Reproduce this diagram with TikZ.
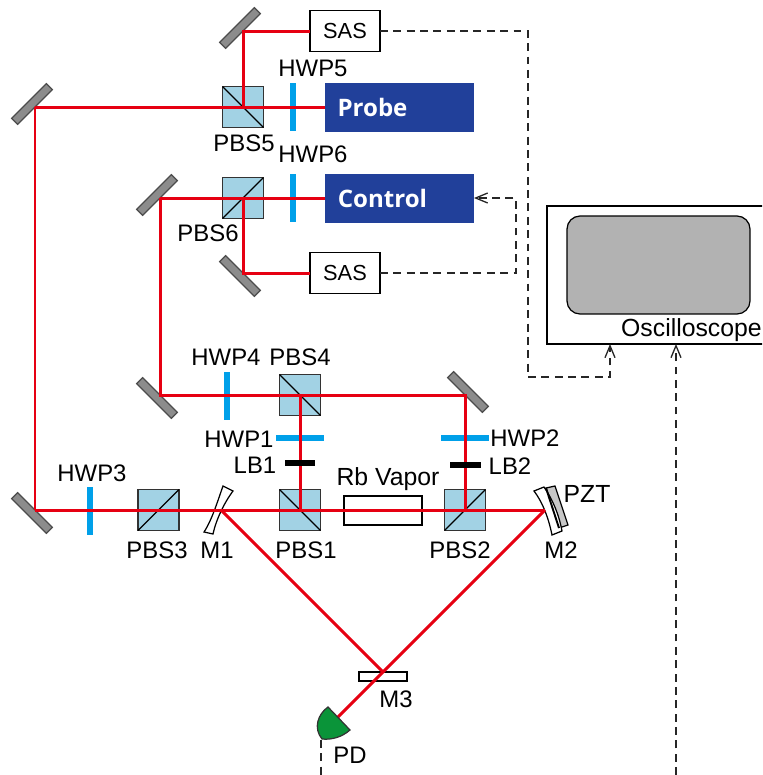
\documentclass[tikz,border=0pt]{standalone}
\usepackage{fontspec}
\setmainfont{Liberation Sans}
\newfontfamily\lasername{Open Sans}
\usetikzlibrary{arrows.meta,positioning}
\definecolor{beamred}{HTML}{E60012}
\definecolor{platecyan}{HTML}{00A0E9}
\definecolor{cubeblue}{HTML}{A2D2E4}
\definecolor{laserblue}{HTML}{21409A}
\definecolor{pdgreen}{HTML}{0A9439}

\begin{document}
\begin{tikzpicture}[
  x=0.02cm,y=-0.02cm,
  beam/.style={draw=beamred, line width=0.06cm},
  signal/.style={draw=black!85, line width=0.75pt, dash pattern=on 4.5pt off 3.1pt},
  signalarrow/.style={signal, -{Straight Barb[length=2.4mm,width=2mm]}},
  cube/.style={draw=black!80, fill=cubeblue, line width=0.8pt, minimum size=0.82cm,
    inner sep=0pt, outer sep=0pt},
  splitter/.style={draw=black, line width=0.7pt},
  mirror/.style={draw=black!70, fill=black!45, line width=0.7pt, minimum width=0.98cm,
    minimum height=0.17cm, inner sep=0pt, outer sep=0pt},
  vplate/.style={fill=platecyan, minimum width=0.12cm, minimum height=0.96cm,
    inner sep=0pt, outer sep=0pt},
  hplate/.style={fill=platecyan, minimum width=0.96cm, minimum height=0.12cm,
    inner sep=0pt, outer sep=0pt},
  blocker/.style={fill=black, minimum width=0.62cm, minimum height=0.12cm,
    inner sep=0pt, outer sep=0pt},
  whitebox/.style={draw=black, fill=white, line width=0.7pt, inner sep=0pt, outer sep=0pt},
  sasbox/.style={whitebox, minimum width=1.4cm, minimum height=0.82cm,
    font=\fontsize{12.4}{14}\selectfont},
  laser/.style={fill=laserblue, minimum width=2.98cm, minimum height=0.98cm, inner sep=0pt,
    outer sep=0pt},
  lasertext/.style={text=white, font=\lasername\bfseries\fontsize{13.7}{15}\selectfont,
    inner sep=0pt},
  tag/.style={inner sep=0pt, font=\fontsize{13.6}{15}\selectfont},
  widetag/.style={inner sep=0pt, font=\fontsize{14.1}{16}\selectfont}
]
\useasboundingbox (0,0) rectangle (762,775);
\clip (0,0) rectangle (762,775);

% lasers, boxes and oscilloscope
\node[laser] (probe) at (399.5,107) {};
\node[laser] (control) at (399.5,198) {};
\node[lasertext] (probetext) at (372.5,107) {Probe};
\node[lasertext] (controltext) at (382.5,198) {Control};
\node[sasbox] (sasprobe) at (345,31) {SAS};
\node[sasbox] (sascontrol) at (345,273) {SAS};
\node[whitebox, minimum width=5cm, minimum height=2.76cm, anchor=north west] (scope) at (547,206) {};
\node[draw=black, fill=black!30, line width=0.7pt, rounded corners=0.26cm, minimum width=3.66cm,
  minimum height=1.96cm, inner sep=0pt] (screen) at (658.5,265) {};
\node[widetag, anchor=east] (scopetext) at (762,330) {Oscilloscope};

% mirrors
\node[mirror, rotate=45, anchor=south] (mirrorsas) at (243,31) {};
\node[mirror, rotate=45, anchor=south] (mirrorprobe) at (35,107) {};
\node[mirror, rotate=45, anchor=south] (mirrorcontrol) at (160,198) {};
\node[mirror, rotate=-45, anchor=north] (mirrorlock) at (160,395) {};
\node[mirror, rotate=-45, anchor=north] (mirrorsastwo) at (243,273) {};
\node[mirror, rotate=-45, anchor=north] (mirrorinput) at (35,510) {};
\node[mirror, rotate=-45, anchor=south] (mirrorright) at (465,395) {};

% cubes
\node[cube] (pbsfive) at (243,107) {};
\node[cube] (pbssix) at (243,198) {};
\node[cube] (pbsfour) at (300,395) {};
\node[cube] (pbsone) at (300,510) {};
\node[cube] (pbstwo) at (465,510) {};
\node[cube] (pbsthree) at (158.5,510) {};
\draw[splitter] (pbsfive.north west) -- (pbsfive.south east);
\draw[splitter] (pbsfour.north west) -- (pbsfour.south east);
\draw[splitter] (pbsone.north west) -- (pbsone.south east);
\draw[splitter] (pbssix.south west) -- (pbssix.north east);
\draw[splitter] (pbstwo.south west) -- (pbstwo.north east);
\draw[splitter] (pbsthree.south west) -- (pbsthree.north east);

% plates and cell
\node[vplate] (hwpfive) at (293,107) {};
\node[vplate] (hwpsix) at (293,198) {};
\node[vplate] (hwpfour) at (227,396) {};
\node[vplate] (hwpthree) at (90,511) {};
\node[hplate] (hwpone) at (300,438) {};
\node[hplate] (hwptwo) at (465,438) {};
\node[whitebox, minimum width=1.56cm, minimum height=0.58cm] (cell) at (383,510.5) {};
\node[whitebox, minimum width=0.96cm, minimum height=0.18cm] (mthree) at (383,676.5) {};

% curved mirrors and pzt
\draw[whitebox] (223,486) .. controls (218,500) and (212,520) .. (204,532) -- (213,534)
  .. controls (216,520) and (224,503) .. (233,491) -- cycle;
\draw[draw=black, fill=black!22, line width=0.7pt] (546,488) -- (555,486) -- (568,525) -- (559,528) -- cycle;
\draw[whitebox] (534,491) .. controls (541,500) and (548,515) .. (552,535) -- (562,531)
  .. controls (559,515) and (553,500) .. (544,487) -- cycle;
\draw[draw=black, line width=1.1pt] (546,488) -- (559,528);
\coordinate (hitone) at (221,510);
\coordinate (hittwo) at (545,510);
\coordinate (pdface) at (338,717);

% beams
\draw[beam] (mirrorprobe.south) -- (probe.west);
\draw[beam] (pbsfive.center) -- (mirrorsas.south) -- (sasprobe.west);
\draw[beam] (mirrorinput.north) -- (mirrorprobe.south);
\draw[beam] (mirrorcontrol.south) -- (control.west);
\draw[beam] (mirrorcontrol.south) -- (mirrorlock.north) -- (mirrorright.south) -- (pbstwo.center);
\draw[beam] (pbssix.center) -- (mirrorsastwo.north) -- (sascontrol.west);
\draw[beam] (pbsfour.center) -- (pbsone.center);
\draw[beam] (mirrorinput.north) -- (hittwo);
\draw[beam] (hitone) -- (mthree.north);
\draw[beam] (hittwo) -- (pdface);

\node[blocker] (lbone) at (300,463) {};
\node[blocker] (lbtwo) at (465,465) {};

% photodiode
\draw[draw=black!80, fill=pdgreen, line width=0.7pt] (328,707)
  .. controls (318,714) and (313,728) .. (322,739)
  .. controls (332,740) and (342,737) .. (350,730) -- cycle;
\coordinate (pdout) at (321,740);
\coordinate (pdend) at (321,775);
\coordinate (scopein) at (676,775);

% signals
\draw[signal] (pdout) -- (pdend);
\draw[signalarrow] (scopein) -- (scopein |- scope.south);
\draw[signalarrow] (sascontrol.east) -- (516,273) -- (516,198) -- (control.east);
\draw[signalarrow] (sasprobe.east) -- (528,31) -- (528,377) -- (610,377) -- (610,344);

% labels
\node[tag] (hwpfivetext) at (313,68) {HWP5};
\node[tag] (pbsfivetext) at (244,143) {PBS5};
\node[tag] (hwpsixtext) at (313,154) {HWP6};
\node[tag] (pbssixtext) at (208,233) {PBS6};
\node[tag] (hwpfourtext) at (226,357) {HWP4};
\node[tag] (pbsfourtext) at (300,357) {PBS4};
\node[tag] (hwponetext) at (239,439) {HWP1};
\node[tag] (lbonetext) at (255,465) {LB1};
\node[widetag] (celltext) at (388,479) {Rb Vapor};
\node[tag] (hwptwotext) at (525,438) {HWP2};
\node[tag] (lbtwotext) at (510,466) {LB2};
\node[widetag] (pzttext) at (587,494) {PZT};
\node[tag] (mtwotext) at (561,550) {M2};
\node[tag] (pbstwotext) at (460,550) {PBS2};
\node[tag] (pbsonetext) at (306,550) {PBS1};
\node[tag] (monetext) at (217,550) {M1};
\node[tag] (pbsthreetext) at (157,550) {PBS3};
\node[tag] (hwpthreetext) at (92,473) {HWP3};
\node[tag] (mthreetext) at (396,699) {M3};
\node[tag] (pdtext) at (350,755) {PD};
\end{tikzpicture}
\end{document}
